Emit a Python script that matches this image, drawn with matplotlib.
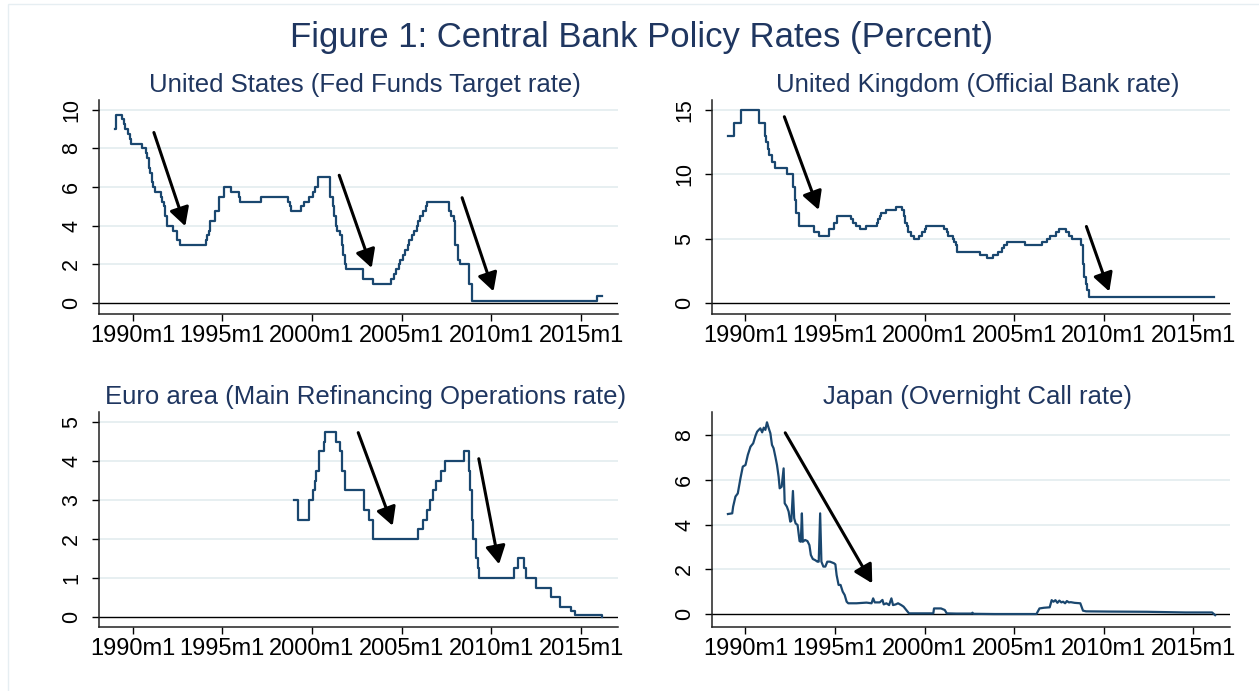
import numpy as np
import matplotlib
matplotlib.use("Agg")
import matplotlib.pyplot as plt
from matplotlib.patches import Rectangle

plt.rcParams['font.family'] = ['Liberation Sans', 'DejaVu Sans']

# policy rate change points, Stata-style month labels
us_months = ['1989m1', '1989m2', '1989m6', '1989m7', '1989m8', '1989m10', '1989m11', '1989m12',
             '1990m7', '1990m10', '1990m11', '1990m12', '1991m1', '1991m2', '1991m3', '1991m4',
             '1991m8', '1991m9', '1991m10', '1991m11', '1991m12', '1992m4', '1992m7', '1992m9',
             '1994m2', '1994m3', '1994m4', '1994m5', '1994m8', '1994m11', '1995m2', '1995m7',
             '1995m12', '1996m1', '1997m3', '1998m9', '1998m10', '1998m11', '1999m6', '1999m8',
             '1999m11', '2000m2', '2000m3', '2000m5', '2001m1', '2001m3', '2001m4', '2001m5',
             '2001m6', '2001m8', '2001m9', '2001m10', '2001m11', '2001m12', '2002m11', '2003m6',
             '2004m6', '2004m8', '2004m9', '2004m11', '2004m12', '2005m2', '2005m3', '2005m5',
             '2005m6', '2005m8', '2005m9', '2005m11', '2005m12', '2006m1', '2006m3', '2006m5',
             '2006m6', '2007m9', '2007m10', '2007m12', '2008m1', '2008m3', '2008m4', '2008m10',
             '2008m12', '2015m12', '2016m3']
us_rates = [9.0, 9.75, 9.5, 9.25, 9.0, 8.75, 8.5, 8.25,
            8.0, 7.75, 7.5, 7.0, 6.75, 6.25, 6.0, 5.75,
            5.5, 5.25, 5.0, 4.5, 4.0, 3.75, 3.25, 3.0,
            3.25, 3.5, 3.75, 4.25, 4.75, 5.5, 6.0, 5.75,
            5.5, 5.25, 5.5, 5.25, 5.0, 4.75, 5.0, 5.25,
            5.5, 5.75, 6.0, 6.5, 5.5, 5.0, 4.5, 4.0,
            3.75, 3.5, 3.0, 2.5, 2.0, 1.75, 1.25, 1.0,
            1.25, 1.5, 1.75, 2.0, 2.25, 2.5, 2.75, 3.0,
            3.25, 3.5, 3.75, 4.0, 4.25, 4.5, 4.75, 5.0,
            5.25, 4.75, 4.5, 4.25, 3.0, 2.25, 2.0, 1.0,
            0.125, 0.375, 0.375]

uk_months = ['1989m1', '1989m5', '1989m10', '1990m10', '1991m2', '1991m3', '1991m4', '1991m5',
             '1991m7', '1991m9', '1992m5', '1992m9', '1992m10', '1992m11', '1993m1', '1993m11',
             '1994m2', '1994m9', '1994m12', '1995m2', '1995m12', '1996m1', '1996m3', '1996m6',
             '1996m10', '1997m5', '1997m6', '1997m7', '1997m8', '1997m11', '1998m6', '1998m10',
             '1998m11', '1998m12', '1999m1', '1999m2', '1999m4', '1999m6', '1999m9', '1999m11',
             '2000m1', '2000m2', '2001m2', '2001m4', '2001m5', '2001m8', '2001m9', '2001m10',
             '2001m11', '2003m2', '2003m7', '2003m11', '2004m2', '2004m5', '2004m6', '2004m8',
             '2005m8', '2006m8', '2006m11', '2007m1', '2007m5', '2007m7', '2007m12', '2008m2',
             '2008m4', '2008m10', '2008m11', '2008m12', '2009m1', '2009m2', '2009m3', '2016m3']
uk_rates = [13.0, 14.0, 15.0, 14.0, 13.0, 12.5, 12.0, 11.5,
            11.0, 10.5, 10.0, 9.0, 8.0, 7.0, 6.0, 5.5,
            5.25, 5.75, 6.25, 6.75, 6.5, 6.25, 6.0, 5.75,
            6.0, 6.25, 6.5, 6.75, 7.0, 7.25, 7.5, 7.25,
            6.75, 6.25, 6.0, 5.5, 5.25, 5.0, 5.25, 5.5,
            5.75, 6.0, 5.75, 5.5, 5.25, 5.0, 4.75, 4.5,
            4.0, 3.75, 3.5, 3.75, 4.0, 4.25, 4.5, 4.75,
            4.5, 4.75, 5.0, 5.25, 5.5, 5.75, 5.5, 5.25,
            5.0, 4.5, 3.0, 2.0, 1.5, 1.0, 0.5, 0.5]

ea_months = ['1999m1', '1999m4', '1999m11', '2000m2', '2000m3', '2000m4', '2000m6', '2000m9',
             '2000m10', '2001m5', '2001m8', '2001m9', '2001m11', '2002m12', '2003m3', '2003m6',
             '2005m12', '2006m3', '2006m6', '2006m8', '2006m10', '2006m12', '2007m3', '2007m6',
             '2008m7', '2008m10', '2008m11', '2008m12', '2009m1', '2009m3', '2009m4', '2009m5',
             '2011m4', '2011m7', '2011m11', '2011m12', '2012m7', '2013m5', '2013m11', '2014m6',
             '2014m9', '2016m3']
ea_rates = [3.0, 2.5, 3.0, 3.25, 3.5, 3.75, 4.25, 4.5,
            4.75, 4.5, 4.25, 3.75, 3.25, 2.75, 2.5, 2.0,
            2.25, 2.5, 2.75, 3.0, 3.25, 3.5, 3.75, 4.0,
            4.25, 3.75, 3.25, 2.5, 2.0, 1.5, 1.25, 1.0,
            1.25, 1.5, 1.25, 1.0, 0.75, 0.5, 0.25, 0.15,
            0.05, 0.0]

# Japan call rate (decimal year, percent)
jp_years = [1989.02, 1989.26, 1989.31, 1989.44, 1989.57, 1989.72, 1989.85, 1990.00, 1990.13, 1990.28,
            1990.43, 1990.56, 1990.65, 1990.74, 1990.83, 1990.93, 1991.02, 1991.11, 1991.20, 1991.30,
            1991.39, 1991.48, 1991.57, 1991.67, 1991.76, 1991.85, 1991.91, 1992.02, 1992.13, 1992.19,
            1992.31, 1992.41, 1992.50, 1992.56, 1992.65, 1992.72, 1992.80, 1992.91, 1993.02, 1993.09,
            1993.15, 1993.20, 1993.33, 1993.46, 1993.57, 1993.65, 1993.76, 1993.89, 1994.02, 1994.09,
            1994.17, 1994.24, 1994.35, 1994.46, 1994.57, 1994.72, 1994.94, 1995.02, 1995.09, 1995.20,
            1995.31, 1995.43, 1995.54, 1995.65, 1995.74, 1996.20, 1996.76, 1997.04, 1997.13, 1997.22,
            1997.50, 1997.65, 1997.72, 1997.87, 1998.02, 1998.15, 1998.24, 1998.39, 1998.52, 1998.70,
            1998.83, 1998.98, 1999.13, 1999.64, 2000.49, 2000.53, 2000.92, 2001.13, 2001.24, 2001.77,
            2002.62, 2002.68, 2002.73, 2003.90, 2006.25, 2006.42, 2006.67, 2006.99, 2007.10, 2007.20,
            2007.31, 2007.42, 2007.53, 2007.64, 2007.74, 2007.85, 2007.95, 2008.06, 2008.17, 2008.38,
            2008.70, 2008.85, 2009.02, 2010.30, 2012.43, 2014.56, 2016.06, 2016.23]
jp_rates = [4.47, 4.50, 4.80, 5.25, 5.39, 6.07, 6.59, 6.66, 7.11, 7.48,
            7.63, 7.97, 8.15, 8.23, 8.30, 8.12, 8.33, 8.23, 8.57, 8.30,
            8.08, 7.56, 7.41, 7.03, 6.66, 6.14, 5.62, 5.69, 6.51, 4.95,
            4.80, 4.58, 4.13, 4.16, 5.50, 4.28, 4.05, 3.98, 3.26, 3.23,
            4.50, 3.23, 3.31, 3.26, 3.08, 2.64, 2.46, 2.41, 2.34, 2.34,
            4.50, 2.34, 2.12, 2.12, 2.34, 2.34, 2.27, 2.22, 1.74, 1.30,
            1.30, 1.00, 0.85, 0.55, 0.48, 0.48, 0.51, 0.48, 0.70, 0.52,
            0.52, 0.63, 0.43, 0.48, 0.40, 0.70, 0.40, 0.43, 0.48, 0.40,
            0.33, 0.18, 0.03, 0.03, 0.03, 0.25, 0.25, 0.18, 0.03, 0.02,
            0.02, 0.06, 0.01, 0.00, 0.00, 0.25, 0.28, 0.30, 0.62, 0.55,
            0.62, 0.50, 0.60, 0.52, 0.55, 0.48, 0.58, 0.52, 0.53, 0.50,
            0.48, 0.15, 0.12, 0.11, 0.10, 0.07, 0.07, -0.05]

# arrows: (tail x, tail y, tip x, tip y)
us_arrows = [(1991.19, 8.82, 1992.94, 3.98), (2001.52, 6.61, 2003.33, 1.82), (2008.37, 5.45, 2010.12, 0.61)]
uk_arrows = [(1992.17, 14.48, 1994.09, 7.24), (2009.04, 5.95, 2010.32, 0.9)]
ea_arrows = [(2002.58, 4.73, 2004.5, 2.34), (2009.3, 4.06, 2010.43, 1.35)]
jp_arrows = [(1992.22, 8.1, 1997.08, 1.37)]

tick_years = [1990, 1995, 2000, 2005, 2010, 2015]
tick_labels = [f"{y}m1" for y in tick_years]


def to_year(m):
    y, mo = m.split('m')
    return int(y) + (int(mo) - 1) / 12


navy = '#1a476f'
title_col = '#1f3660'
grid_col = '#e3ecef'

fig = plt.figure(figsize=(12.59, 6.91), dpi=100)
fig.patch.set_facecolor('white')
fig.add_artist(Rectangle((8 / 1259, -0.05), 1.2, 1 - 4 / 691 + 0.05, transform=fig.transFigure,
                         fill=False, ec='#e6eef2', lw=1))

fig.text(641 / 1259, 1 - 37 / 691, "Figure 1: Central Bank Policy Rates (Percent)",
         ha='center', va='center', fontsize=25, color=title_col)

panels = [
    dict(rect=[99 / 1259, 1 - 314 / 691, 519 / 1259, 214 / 691], title="United States (Fed Funds Target rate)",
         x=[to_year(m) for m in us_months], y=us_rates, step=True, ylim=(-0.56, 10.5),
         yticks=[0, 2, 4, 6, 8, 10], arrows=us_arrows),
    dict(rect=[712 / 1259, 1 - 314 / 691, 518 / 1259, 214 / 691], title="United Kingdom (Official Bank rate)",
         x=[to_year(m) for m in uk_months], y=uk_rates, step=True, ylim=(-0.85, 15.78),
         yticks=[0, 5, 10, 15], arrows=uk_arrows),
    dict(rect=[99 / 1259, 1 - 627 / 691, 519 / 1259, 215 / 691], title="Euro area (Main Refinancing Operations rate)",
         x=[to_year(m) for m in ea_months], y=ea_rates, step=True, ylim=(-0.26, 5.26),
         yticks=[0, 1, 2, 3, 4, 5], arrows=ea_arrows),
    dict(rect=[712 / 1259, 1 - 627 / 691, 518 / 1259, 215 / 691], title="Japan (Overnight Call rate)",
         x=jp_years, y=jp_rates, step=False, ylim=(-0.58, 9.03),
         yticks=[0, 2, 4, 6, 8], arrows=jp_arrows),
]

for p in panels:
    ax = fig.add_axes(p['rect'])
    ax.set_xlim(1988.13, 2017.06)
    ax.set_ylim(*p['ylim'])
    for yt in p['yticks'][1:]:
        ax.axhline(yt, color=grid_col, lw=1.2, zorder=0)
    ax.axhline(0, color='black', lw=1.0, zorder=1)
    ax.plot(p['x'], p['y'], color=navy, lw=1.6, zorder=2,
            drawstyle='steps-post' if p['step'] else 'default')
    for x0, y0, x1, y1 in p['arrows']:
        ax.annotate('', xy=(x1, y1), xytext=(x0, y0),
                    arrowprops=dict(arrowstyle='-|>,head_length=0.55,head_width=0.3', color='black',
                                    lw=2.2, shrinkA=0, shrinkB=0, mutation_scale=20), zorder=3)
    ax.set_xticks(tick_years)
    ax.set_xticklabels(tick_labels)
    ax.set_yticks(p['yticks'])
    ax.set_yticklabels([str(v) for v in p['yticks']], rotation=90, va='center')
    ax.tick_params(axis='x', length=5, width=1, pad=3, labelsize=17, colors='black')
    ax.tick_params(axis='y', length=5, width=1, pad=7, labelsize=15.5, colors='black')
    for s in ['top', 'right']:
        ax.spines[s].set_visible(False)
    for s in ['left', 'bottom']:
        ax.spines[s].set_linewidth(1.1)
        ax.spines[s].set_color('#222222')
    ax.text(0.513, 1 + 15 / 214, p['title'], transform=ax.transAxes, ha='center', va='center',
            fontsize=18.5, color=title_col)

fig.savefig('out.png', dpi=100)
